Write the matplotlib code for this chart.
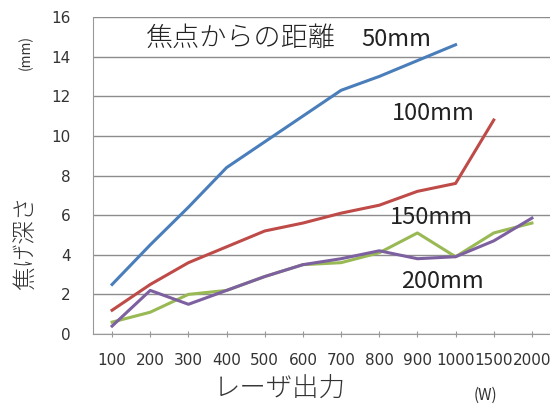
import matplotlib
matplotlib.use("Agg")
import matplotlib.pyplot as plt

plt.rcParams['font.family'] = ['Noto Sans CJK JP', 'DejaVu Sans']

# categories (laser power, W)
power = ['100', '200', '300', '400', '500', '600', '700', '800', '900', '1000', '1500', '2000']

# burn depth (mm) by distance from focus
d50 = [2.5, 4.5, 6.4, 8.4, 9.7, 11.0, 12.3, 13.0, 13.8, 14.6]
d100 = [1.2, 2.5, 3.6, 4.4, 5.2, 5.6, 6.1, 6.5, 7.2, 7.6, 10.8]
d150 = [0.6, 1.1, 2.0, 2.2, 2.9, 3.5, 3.6, 4.1, 5.1, 3.9, 5.1, 5.6]
d200 = [0.4, 2.2, 1.5, 2.2, 2.9, 3.5, 3.8, 4.2, 3.8, 3.9, 4.7, 5.85]

series = [(d50, '#4A7EBB'), (d100, '#BE4B48'), (d150, '#98B954'), (d200, '#7D60A0')]
labels = ['50mm', '100mm', '150mm', '200mm']

fig = plt.figure(figsize=(5.5, 4.07), dpi=100)
ax = fig.add_axes([93 / 550, 1 - 334 / 407, 458 / 550, 317 / 407])

x = list(range(len(power)))
for vals, col in series:
    ax.plot(x[:len(vals)], vals, color=col, lw=2.2, solid_joinstyle='round', zorder=3)

ax.set_xlim(-0.5, len(power) - 0.5)
ax.set_ylim(0, 16)
ax.set_yticks(range(0, 17, 2))
ax.set_xticks(x)
ax.set_xticklabels(power, family='DejaVu Sans', fontsize=11, color='#333333')
for t in ax.get_yticklabels():
    t.set_family('DejaVu Sans')
ax.tick_params(axis='y', length=0, pad=16, labelsize=11, labelcolor='#333333')
ax.tick_params(axis='x', length=5, direction='inout', pad=11, color='#999999')
ax.grid(axis='y', color='#8c8c8c', lw=1)
ax.set_axisbelow(True)
for s in ['top', 'right']:
    ax.spines[s].set_visible(False)
ax.spines['left'].set_color('#999999')
ax.spines['bottom'].set_color('#999999')

def px(xp, yp):
    return ((xp - 93) / 458, (334 - yp) / 317)

ax.text(*px(146, 38), '焦点からの距離', transform=ax.transAxes, fontsize=19.5,
        va='center', ha='left', color='#222222', fontweight='light')
for lab, (xp, yp) in zip(labels, [(361, 40), (392, 113), (390, 217), (401, 282)]):
    ax.text(*px(xp, yp), lab, transform=ax.transAxes, fontsize=17,
            va='center', ha='left', color='#222222')

fig.text(25 / 550, 1 - 243 / 407, '焦げ深さ', rotation=90, fontsize=17,
         ha='center', va='center', color='#333333', fontweight='light')
fig.text(26 / 550, 1 - 52 / 407, '(mm)', rotation=90, fontsize=10,
         ha='center', va='center', color='#333333')
fig.text(280 / 550, 1 - 389 / 407, 'レーザ出力', fontsize=19,
         ha='center', va='center', color='#333333', fontweight='light')
fig.text(485 / 550, 1 - 395 / 407, '(W)', fontsize=11,
         ha='center', va='center', color='#333333')

fig.savefig('out.png', dpi=100)
